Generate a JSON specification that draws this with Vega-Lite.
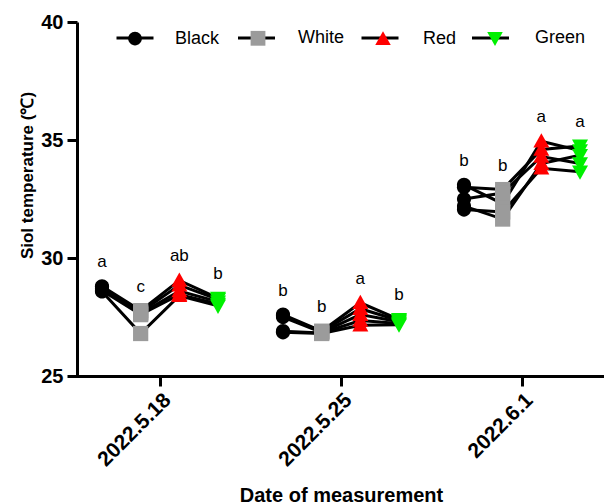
{
  "$schema": "https://vega.github.io/schema/vega-lite/v6.json",
  "width": 527,
  "height": 354,
  "autosize": {"type": "none"},
  "padding": {"left": 77, "top": 22, "right": 0, "bottom": 128},
  "background": "white",
  "config": {"view": {"stroke": null}, "font": "Liberation Sans"},
  "data": {"values": [
    {"date":"2022.5.18","rep":1,"group":"Black","temp":28.8,"letter":"a"},
    {"date":"2022.5.18","rep":1,"group":"White","temp":27.77,"letter":"c"},
    {"date":"2022.5.18","rep":1,"group":"Red","temp":29.05,"letter":"ab"},
    {"date":"2022.5.18","rep":1,"group":"Green","temp":28.3,"letter":"b"},
    {"date":"2022.5.18","rep":2,"group":"Black","temp":28.77,"letter":"a"},
    {"date":"2022.5.18","rep":2,"group":"White","temp":27.7,"letter":"c"},
    {"date":"2022.5.18","rep":2,"group":"Red","temp":28.85,"letter":"ab"},
    {"date":"2022.5.18","rep":2,"group":"Green","temp":28.25,"letter":"b"},
    {"date":"2022.5.18","rep":3,"group":"Black","temp":28.7,"letter":"a"},
    {"date":"2022.5.18","rep":3,"group":"White","temp":27.65,"letter":"c"},
    {"date":"2022.5.18","rep":3,"group":"Red","temp":28.6,"letter":"ab"},
    {"date":"2022.5.18","rep":3,"group":"Green","temp":28.15,"letter":"b"},
    {"date":"2022.5.18","rep":4,"group":"Black","temp":28.62,"letter":"a"},
    {"date":"2022.5.18","rep":4,"group":"White","temp":27.6,"letter":"c"},
    {"date":"2022.5.18","rep":4,"group":"Red","temp":28.45,"letter":"ab"},
    {"date":"2022.5.18","rep":4,"group":"Green","temp":28.05,"letter":"b"},
    {"date":"2022.5.18","rep":5,"group":"Black","temp":28.58,"letter":"a"},
    {"date":"2022.5.18","rep":5,"group":"White","temp":26.8,"letter":"c"},
    {"date":"2022.5.18","rep":5,"group":"Red","temp":28.4,"letter":"ab"},
    {"date":"2022.5.18","rep":5,"group":"Green","temp":27.97,"letter":"b"},
    {"date":"2022.5.25","rep":1,"group":"Black","temp":27.6,"letter":"b"},
    {"date":"2022.5.25","rep":1,"group":"White","temp":26.9,"letter":"b"},
    {"date":"2022.5.25","rep":1,"group":"Red","temp":28.1,"letter":"a"},
    {"date":"2022.5.25","rep":1,"group":"Green","temp":27.4,"letter":"b"},
    {"date":"2022.5.25","rep":2,"group":"Black","temp":27.55,"letter":"b"},
    {"date":"2022.5.25","rep":2,"group":"White","temp":26.88,"letter":"b"},
    {"date":"2022.5.25","rep":2,"group":"Red","temp":27.85,"letter":"a"},
    {"date":"2022.5.25","rep":2,"group":"Green","temp":27.35,"letter":"b"},
    {"date":"2022.5.25","rep":3,"group":"Black","temp":27.5,"letter":"b"},
    {"date":"2022.5.25","rep":3,"group":"White","temp":26.85,"letter":"b"},
    {"date":"2022.5.25","rep":3,"group":"Red","temp":27.6,"letter":"a"},
    {"date":"2022.5.25","rep":3,"group":"Green","temp":27.3,"letter":"b"},
    {"date":"2022.5.25","rep":4,"group":"Black","temp":26.9,"letter":"b"},
    {"date":"2022.5.25","rep":4,"group":"White","temp":26.82,"letter":"b"},
    {"date":"2022.5.25","rep":4,"group":"Red","temp":27.35,"letter":"a"},
    {"date":"2022.5.25","rep":4,"group":"Green","temp":27.22,"letter":"b"},
    {"date":"2022.5.25","rep":5,"group":"Black","temp":26.85,"letter":"b"},
    {"date":"2022.5.25","rep":5,"group":"White","temp":26.8,"letter":"b"},
    {"date":"2022.5.25","rep":5,"group":"Red","temp":27.15,"letter":"a"},
    {"date":"2022.5.25","rep":5,"group":"Green","temp":27.17,"letter":"b"},
    {"date":"2022.6.1","rep":1,"group":"Black","temp":33.1,"letter":"b"},
    {"date":"2022.6.1","rep":1,"group":"White","temp":32.3,"letter":"b"},
    {"date":"2022.6.1","rep":1,"group":"Red","temp":34.95,"letter":"a"},
    {"date":"2022.6.1","rep":1,"group":"Green","temp":34.55,"letter":"a"},
    {"date":"2022.6.1","rep":2,"group":"Black","temp":33.0,"letter":"b"},
    {"date":"2022.6.1","rep":2,"group":"White","temp":32.9,"letter":"b"},
    {"date":"2022.6.1","rep":2,"group":"Red","temp":34.6,"letter":"a"},
    {"date":"2022.6.1","rep":2,"group":"Green","temp":34.75,"letter":"a"},
    {"date":"2022.6.1","rep":3,"group":"Black","temp":32.5,"letter":"b"},
    {"date":"2022.6.1","rep":3,"group":"White","temp":32.75,"letter":"b"},
    {"date":"2022.6.1","rep":3,"group":"Red","temp":34.3,"letter":"a"},
    {"date":"2022.6.1","rep":3,"group":"Green","temp":34.0,"letter":"a"},
    {"date":"2022.6.1","rep":4,"group":"Black","temp":32.2,"letter":"b"},
    {"date":"2022.6.1","rep":4,"group":"White","temp":31.65,"letter":"b"},
    {"date":"2022.6.1","rep":4,"group":"Red","temp":34.0,"letter":"a"},
    {"date":"2022.6.1","rep":4,"group":"Green","temp":34.35,"letter":"a"},
    {"date":"2022.6.1","rep":5,"group":"Black","temp":32.05,"letter":"b"},
    {"date":"2022.6.1","rep":5,"group":"White","temp":31.95,"letter":"b"},
    {"date":"2022.6.1","rep":5,"group":"Red","temp":33.8,"letter":"a"},
    {"date":"2022.6.1","rep":5,"group":"Green","temp":33.65,"letter":"a"}
  ]},
  "encoding": {
    "x": {
      "field": "date", "type": "nominal",
      "sort": ["2022.5.18", "2022.5.25", "2022.6.1"],
      "scale": {"range": [-7.5, 535.5], "paddingInner": 0, "paddingOuter": 0},
      "axis": {
        "title": "Date of measurement",
        "labelAngle": -45,
        "labelFont": "Liberation Sans", "labelFontSize": 21, "labelFontWeight": "bold", "labelColor": "black",
        "labelPadding": 3,
        "domainColor": "black", "domainWidth": 3,
        "tickColor": "black", "tickWidth": 3, "tickSize": 10,
        "grid": false,
        "titleFont": "Liberation Sans", "titleFontSize": 20, "titleFontWeight": "bold", "titleColor": "black",
        "titleY": 125, "titleBaseline": "alphabetic"
      }
    },
    "xOffset": {
      "field": "group", "type": "nominal",
      "scale": {"type": "point", "domain": ["Black", "White", "Red", "Green"], "padding": 0.84}
    },
    "y": {
      "field": "temp", "type": "quantitative",
      "scale": {"domain": [25, 40], "nice": false, "zero": false},
      "axis": {
        "title": "Siol temperature (℃)",
        "values": [25, 30, 35, 40],
        "grid": false,
        "domainColor": "black", "domainWidth": 3,
        "tickColor": "black", "tickWidth": 3, "tickSize": 10,
        "labelFont": "Liberation Sans", "labelFontSize": 20, "labelFontWeight": "bold", "labelColor": "black",
        "labelPadding": 4,
        "titleFont": "Liberation Sans", "titleFontSize": 17, "titleFontWeight": "bold", "titleColor": "black",
        "titleX": -50, "titleY": 153, "titleAngle": -90, "titleAlign": "center", "titleBaseline": "middle"
      }
    }
  },
  "layer": [
    {
      "transform": [{"filter": "false"}],
      "mark": {"type": "line", "strokeWidth": 3},
      "encoding": {
        "color": {
          "field": "group", "type": "nominal",
          "scale": {"domain": ["black", "white", "red", "green"], "range": ["#000000", "#000000", "#000000", "#000000"]},
          "legend": {
            "orient": "none", "legendX": 38, "legendY": -4, "direction": "horizontal", "title": null,
            "symbolType": "stroke", "symbolSize": 1369, "symbolStrokeWidth": 3, "symbolStrokeColor": "#000000",
            "labelExpr": "upper(slice(datum.label, 0, 1)) + slice(datum.label, 1)",
            "labelFont": "Liberation Sans", "labelFontSize": 18, "labelColor": "rgba(0,0,0,0)",
            "labelOffset": 20, "columnPadding": 11.5, "padding": 0, "zindex": 0
          }
        }
      }
    },
    {
      "mark": {"type": "line", "color": "#000000", "strokeWidth": 3},
      "encoding": {
        "detail": [{"field": "date"}, {"field": "rep"}],
        "order": {"value": null}
      }
    },
    {
      "mark": {"type": "point", "filled": true, "opacity": 1, "size": 1450},
      "encoding": {
        "fill": {
          "field": "group", "type": "nominal",
          "scale": {"domain": ["Black", "White", "Red", "Green"], "range": ["#000000", "#9b9b9b", "#ff0000", "#00f000"]},
          "legend": {
            "orient": "none", "legendX": 38, "legendY": -4, "direction": "horizontal", "title": null,
            "symbolSize": 1369, "symbolStrokeWidth": 3, "symbolStrokeColor": "transparent", "symbolOpacity": 1,
            "labelFont": "Liberation Sans", "labelFontSize": 18, "labelColor": "black",
            "labelOffset": 20, "columnPadding": 18, "padding": 0, "zindex": 1
          }
        },
        "shape": {
          "field": "group", "type": "nominal",
          "scale": {"domain": ["Black", "White", "Red", "Green"], "range": [
            "M0.37,0A0.37,0.37,0,1,1,-0.37,0A0.37,0.37,0,1,1,0.37,0Z",
            "M-0.4,-0.4H0.4V0.4H-0.4Z",
            "M0,-0.42L0.42,0.33H-0.42Z",
            "M0,0.42L0.42,-0.33H-0.42Z"
          ]},
          "legend": {
            "orient": "none", "legendX": 38, "legendY": -4, "direction": "horizontal", "title": null,
            "symbolSize": 1369, "symbolStrokeWidth": 3, "symbolStrokeColor": "transparent", "symbolOpacity": 1,
            "labelFont": "Liberation Sans", "labelFontSize": 18, "labelColor": "black",
            "labelOffset": 20, "columnPadding": 18, "padding": 0, "zindex": 1
          }
        }
      }
    },
    {
      "transform": [{"aggregate": [{"op": "max", "field": "temp", "as": "tmax"}], "groupby": ["date", "group", "letter"]}],
      "mark": {"type": "text", "dy": -24, "fontSize": 17, "font": "Liberation Sans", "color": "#000000", "baseline": "middle", "align": "center"},
      "encoding": {
        "y": {"field": "tmax", "type": "quantitative"},
        "text": {"field": "letter"}
      }
    }
  ]
}
